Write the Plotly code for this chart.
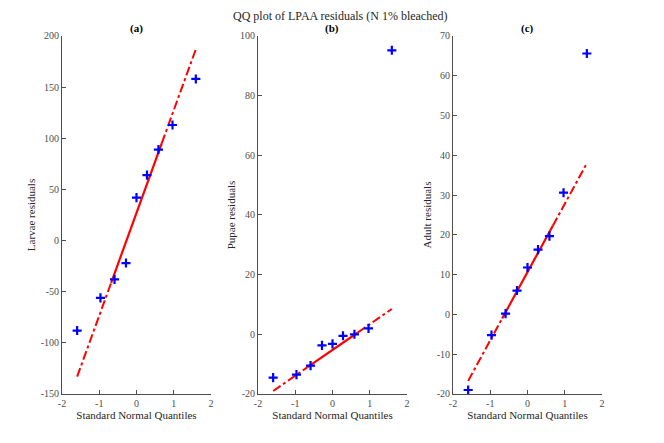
import plotly.graph_objects as go

# standard normal quantiles for 9 samples
quantiles = [-1.593, -0.967, -0.589, -0.282, 0.0, 0.282, 0.589, 0.967, 1.593]

larvae = [-88, -56, -38, -22, 42, 64, 89, 113, 158]
pupae = [-14.5, -13.5, -10.5, -3.7, -3.2, -0.5, 0.0, 2.0, 95.2]
adult = [-19.0, -5.2, 0.2, 6.0, 11.8, 16.3, 19.7, 30.6, 65.6]

# reference line: x positions (ends and quartiles) and y values
line_x = [-1.593, -0.68, 0.68, 1.593]
larvae_line = [-133, -41.3, 95.3, 187]
pupae_line = [-19.0, -11.1, 0.6, 8.5]
adult_line = [-16.7, -1.0, 22.3, 38.0]

panels = [
    ("(a)", "Larvae residuals", larvae, larvae_line, [-150, 200], 50),
    ("(b)", "Pupae residuals", pupae, pupae_line, [-20, 100], 20),
    ("(c)", "Adult residuals", adult, adult_line, [-20, 70], 10),
]
x_domains = [[0.0813, 0.3057], [0.3765, 0.6009], [0.6702, 0.8946]]
y_domain = [0.1287, 0.9368]

FONT = "Liberation Serif"
AXC = "#4d4d4d"

fig = go.Figure()
annotations = []
for i, (tag, ylab, vals, lvals, yr, dt) in enumerate(panels):
    n = "" if i == 0 else str(i + 1)
    xa, ya = "x" + n, "y" + n
    # dash-dot extensions
    fig.add_trace(go.Scatter(x=line_x[:2], y=lvals[:2], mode="lines", xaxis=xa, yaxis=ya,
                             line=dict(color="red", width=2, dash="dashdot"), showlegend=False))
    fig.add_trace(go.Scatter(x=line_x[2:], y=lvals[2:], mode="lines", xaxis=xa, yaxis=ya,
                             line=dict(color="red", width=2, dash="dashdot"), showlegend=False))
    # solid middle between quartiles
    fig.add_trace(go.Scatter(x=line_x[1:3], y=lvals[1:3], mode="lines", xaxis=xa, yaxis=ya,
                             line=dict(color="red", width=2.2), showlegend=False))
    fig.add_trace(go.Scatter(x=quantiles, y=vals, mode="markers", xaxis=xa, yaxis=ya,
                             marker=dict(symbol="cross-thin-open", size=6.5, color="blue",
                                         line=dict(color="blue", width=2.2)),
                             showlegend=False))
    ticks_y = list(range(yr[0], yr[1] + 1, dt))
    fig.layout["xaxis" + n] = dict(
        domain=x_domains[i], anchor=ya, range=[-2, 2], automargin=False,
        tickvals=[-2, -1, 0, 1, 2], ticktext=["-2", "-1", "0", "1", "2"],
        ticks="inside", ticklen=4, tickcolor=AXC, showline=True, linecolor=AXC, linewidth=1,
        showgrid=False, zeroline=False, tickfont=dict(size=10, color=AXC, family=FONT),
        title=dict(text="Standard Normal Quantiles", font=dict(size=11, color="#262626", family=FONT),
                   standoff=2),
    )
    fig.layout["yaxis" + n] = dict(
        domain=y_domain, anchor=xa, range=yr, automargin=False,
        tickvals=ticks_y, ticktext=[str(t) for t in ticks_y],
        ticks="inside", ticklen=4, tickcolor=AXC, showline=True, linecolor=AXC, linewidth=1,
        showgrid=False, zeroline=False, tickfont=dict(size=10, color=AXC, family=FONT),
        title=dict(text=ylab, font=dict(size=11, color="#262626", family=FONT), standoff=2),
    )
    annotations.append(dict(text="<b>" + tag + "</b>", xref="paper", yref="paper",
                            x=sum(x_domains[i]) / 2, y=y_domain[1], yanchor="bottom",
                            xanchor="center", showarrow=False, yshift=-1,
                            font=dict(size=11, color="black", family=FONT)))

# overall title
annotations.append(dict(text="QQ plot of LPAA residuals (N 1% bleached)", xref="paper", yref="paper",
                        x=0.5, y=0.983, xanchor="center", yanchor="middle", showarrow=False,
                        font=dict(size=12, color="#262626", family=FONT)))

fig.update_layout(
    template="none",
    width=664, height=443,
    margin=dict(l=0, r=0, t=0, b=0),
    paper_bgcolor="white", plot_bgcolor="white",
    font=dict(family=FONT),
    annotations=annotations,
)

fig.write_html("out.html")
